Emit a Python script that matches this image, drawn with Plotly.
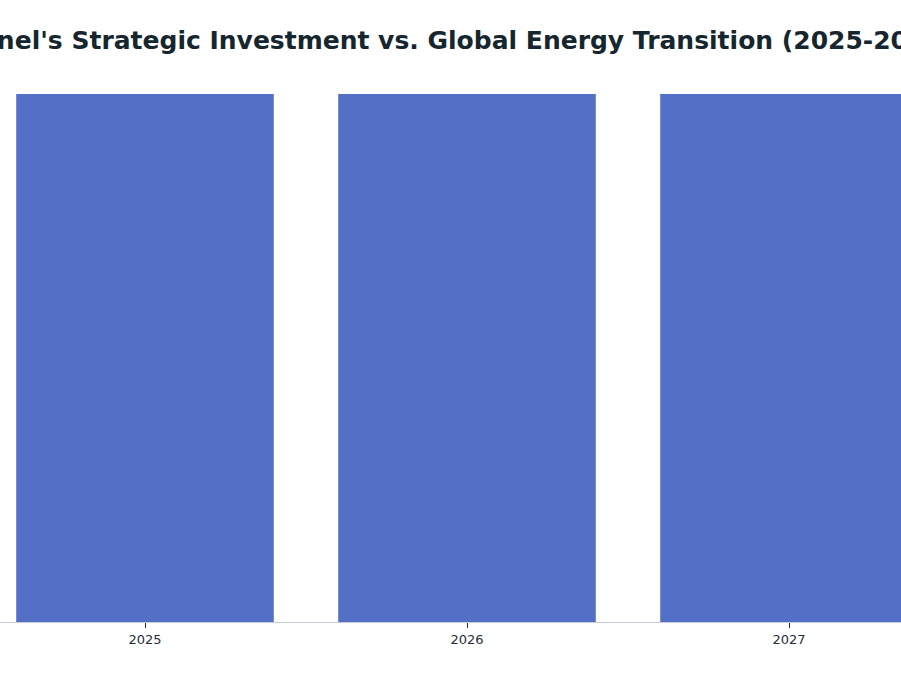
import plotly.graph_objects as go

years = [2025, 2026, 2027]
investment = [14.3, 14.3, 14.3]
series_name = "Enel Strategic Investment"
title_text = "Enel's Strategic Investment vs. Global Energy Transition (2025-2027)"

fig = go.Figure()
fig.add_trace(go.Bar(
    x=years, y=investment, name=series_name,
    marker=dict(color="#5470c6", line=dict(width=0)),
    showlegend=False,
))

fig.update_layout(
    width=901, height=676,
    margin=dict(l=0, r=0, t=94, b=54),
    paper_bgcolor="white", plot_bgcolor="white",
    bargap=0.2,
    title=dict(text=title_text, x=467 / 901, xanchor="center", xref="container",
               y=1 - 40 / 676, yanchor="middle", yref="container",
               font=dict(family="DejaVu Sans", size=25, color="#16262f", weight="bold")),
    font=dict(family="DejaVu Sans", color="#1f2d3a"),
    xaxis=dict(
        range=[2025 - 145 / 322, 2025 - 145 / 322 + 901 / 322],
        tickvals=years, ticktext=[str(y) for y in years],
        showgrid=False, zeroline=False,
        showline=True, linecolor="#c8ccd4", linewidth=1,
        ticks="outside", ticklen=5, tickcolor="#1f2d3a", tickwidth=1,
        tickfont=dict(size=13, color="#1f2d3a"),
    ),
    yaxis=dict(range=[0, max(investment)], visible=False, showgrid=False, zeroline=False),
)

fig.write_html("out.html", config={"displayModeBar": False},
               post_script="document.body.style.margin='0';")
